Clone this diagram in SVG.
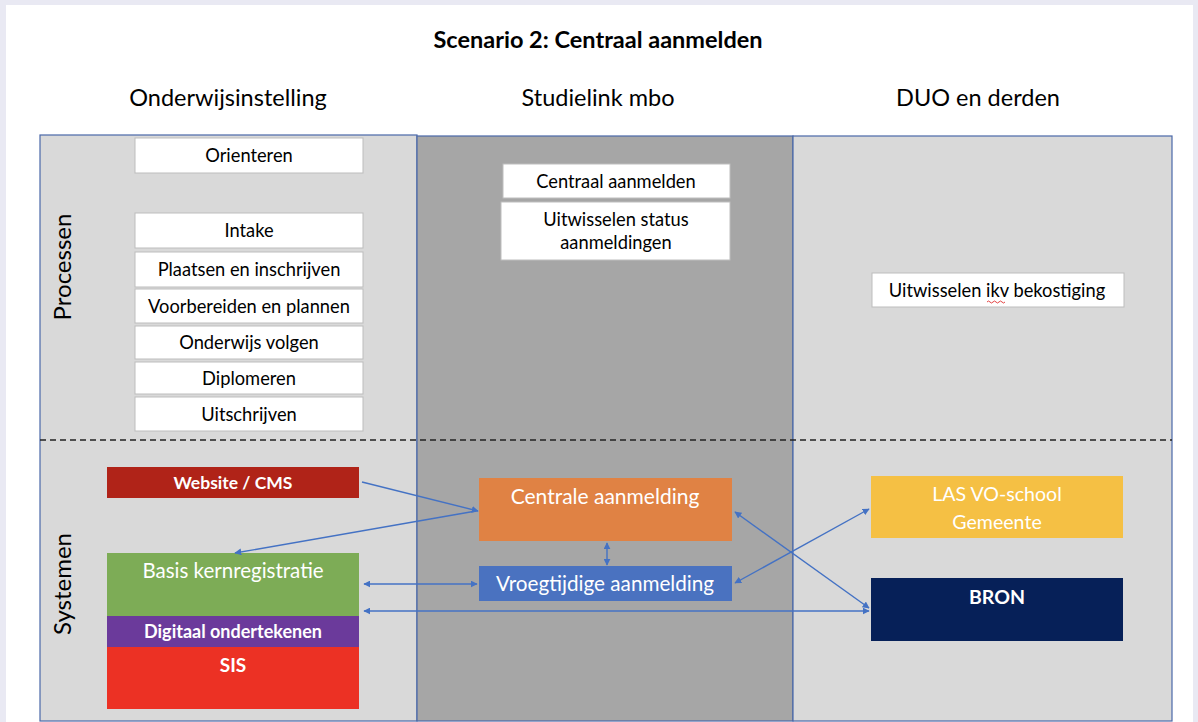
<svg xmlns="http://www.w3.org/2000/svg" width="1198" height="722" viewBox="0 0 1198 722">
<style>
text{font-family:Lato,"Open Sans","Liberation Sans",sans-serif;text-anchor:middle}
.hd{font-size:23.5px;fill:#000}
.pbox{fill:#fff;stroke:#bdbdbd;stroke-width:1}
.pt{font-size:18.3px;fill:#000}
.st{fill:#fff}
.col{stroke:#4a68a8;stroke-width:1.2}
.cn{stroke:#4472c4;stroke-width:1.4;fill:none}
</style>
<defs>
<marker id="ah" viewBox="0 0 10 10" refX="9" refY="5" markerWidth="7" markerHeight="7" orient="auto-start-reverse" markerUnits="userSpaceOnUse">
<path d="M0,0 L10,5 L0,10 z" fill="#4472c4"/>
</marker>
</defs>
<rect x="0" y="0" width="1198" height="722" fill="#e9e9f3"/>
<rect x="6" y="5" width="1187" height="717" fill="#fff"/>
<text x="598" y="48" style="font-size:23.5px;font-weight:bold">Scenario 2: Centraal aanmelden</text>
<text class="hd" x="228" y="106">Onderwijsinstelling</text>
<text class="hd" x="598" y="106">Studielink mbo</text>
<text class="hd" x="978" y="106">DUO en derden</text>
<g id="lanes">
<rect class="col" x="40" y="135" width="377" height="586" fill="#d9d9d9"/>
<rect class="col" x="417" y="136" width="376" height="585" fill="#a6a6a6"/>
<rect class="col" x="793" y="136" width="379" height="585" fill="#d9d9d9"/>
<line x1="40" y1="440" x2="1172" y2="440" stroke="#222" stroke-width="1.3" stroke-dasharray="6,4"/>
<text x="0" y="0" transform="translate(71,267) rotate(-90)" style="font-size:24px">Processen</text>
<text x="0" y="0" transform="translate(71,584) rotate(-90)" style="font-size:24px">Systemen</text>
</g>
<g id="p-orienteren"><rect class="pbox" x="135" y="138" width="228" height="35"/><text class="pt" x="249" y="162">Orienteren</text></g>
<g id="p-intake"><rect class="pbox" x="135" y="213" width="228" height="35"/><text class="pt" x="249" y="237">Intake</text></g>
<g id="p-plaatsen"><rect class="pbox" x="135" y="252" width="228" height="35"/><text class="pt" x="249" y="276">Plaatsen en inschrijven</text></g>
<g id="p-voorbereiden"><rect class="pbox" x="135" y="289" width="228" height="34"/><text class="pt" x="249" y="313">Voorbereiden en plannen</text></g>
<g id="p-onderwijs"><rect class="pbox" x="135" y="326" width="228" height="33"/><text class="pt" x="249" y="349">Onderwijs volgen</text></g>
<g id="p-diplomeren"><rect class="pbox" x="135" y="362" width="228" height="32"/><text class="pt" x="249" y="385">Diplomeren</text></g>
<g id="p-uitschrijven"><rect class="pbox" x="135" y="397" width="228" height="34"/><text class="pt" x="249" y="421">Uitschrijven</text></g>
<g id="p-centraal"><rect class="pbox" x="503" y="164" width="227" height="34"/><text class="pt" x="616" y="188">Centraal aanmelden</text></g>
<g id="p-status"><rect class="pbox" x="501" y="202" width="229" height="58"/><text class="pt" x="616" y="226">Uitwisselen status</text><text class="pt" x="616" y="249">aanmeldingen</text></g>
<g id="p-bekostiging"><rect class="pbox" x="872" y="273" width="252" height="34"/><text class="pt" x="997" y="297">Uitwisselen ikv bekostiging</text><path d="M987,302 q1.5,-2 3,0 t3,0 t3,0 t3,0 t3,0 t3,0" stroke="#e03030" stroke-width="0.9" fill="none"/></g>
<g id="s-website"><rect x="107" y="467" width="252" height="31" fill="#b02318"/><text class="st" x="233" y="489" style="font-size:17.5px;font-weight:bold">Website / CMS</text></g>
<g id="s-basis"><rect x="107" y="553" width="252" height="63" fill="#7dac56"/><text class="st" x="233" y="578" style="font-size:20.5px">Basis kernregistratie</text></g>
<g id="s-digitaal"><rect x="107" y="616" width="252" height="31" fill="#6b3a9b"/><text class="st" x="233" y="638" style="font-size:18px;font-weight:bold">Digitaal ondertekenen</text></g>
<g id="s-sis"><rect x="107" y="647" width="252" height="62" fill="#ec3124"/><text class="st" x="233" y="672" style="font-size:19px;font-weight:bold">SIS</text></g>
<g id="s-centrale"><rect x="479" y="478" width="253" height="63" fill="#e08244"/><text class="st" x="605" y="504" style="font-size:21px">Centrale aanmelding</text></g>
<g id="s-vroeg"><rect x="479" y="566" width="253" height="35" fill="#4a72c0"/><text class="st" x="605" y="591" style="font-size:20.7px">Vroegtijdige aanmelding</text></g>
<g id="s-las"><rect x="871" y="476" width="252" height="62" fill="#f5c044"/><text class="st" x="997" y="501" style="font-size:19.6px">LAS VO-school</text><text class="st" x="997" y="529" style="font-size:19.6px">Gemeente</text></g>
<g id="s-bron"><rect x="871" y="578" width="252" height="63" fill="#062058"/><text class="st" x="997" y="604" style="font-size:19.5px;font-weight:bold">BRON</text></g>
<g id="connectors">
<line class="cn" x1="362" y1="482" x2="478" y2="511" marker-end="url(#ah)"/>
<line class="cn" x1="476" y1="511" x2="235" y2="553" marker-end="url(#ah)"/>
<line class="cn" x1="364" y1="584" x2="477" y2="584" marker-start="url(#ah)" marker-end="url(#ah)"/>
<line class="cn" x1="364" y1="611" x2="869" y2="611" marker-start="url(#ah)" marker-end="url(#ah)"/>
<line class="cn" x1="607" y1="543" x2="607" y2="565" marker-start="url(#ah)" marker-end="url(#ah)"/>
<line class="cn" x1="735" y1="512" x2="869" y2="608" marker-start="url(#ah)" marker-end="url(#ah)"/>
<line class="cn" x1="735" y1="583" x2="869" y2="509" marker-start="url(#ah)" marker-end="url(#ah)"/>
</g>
</svg>
